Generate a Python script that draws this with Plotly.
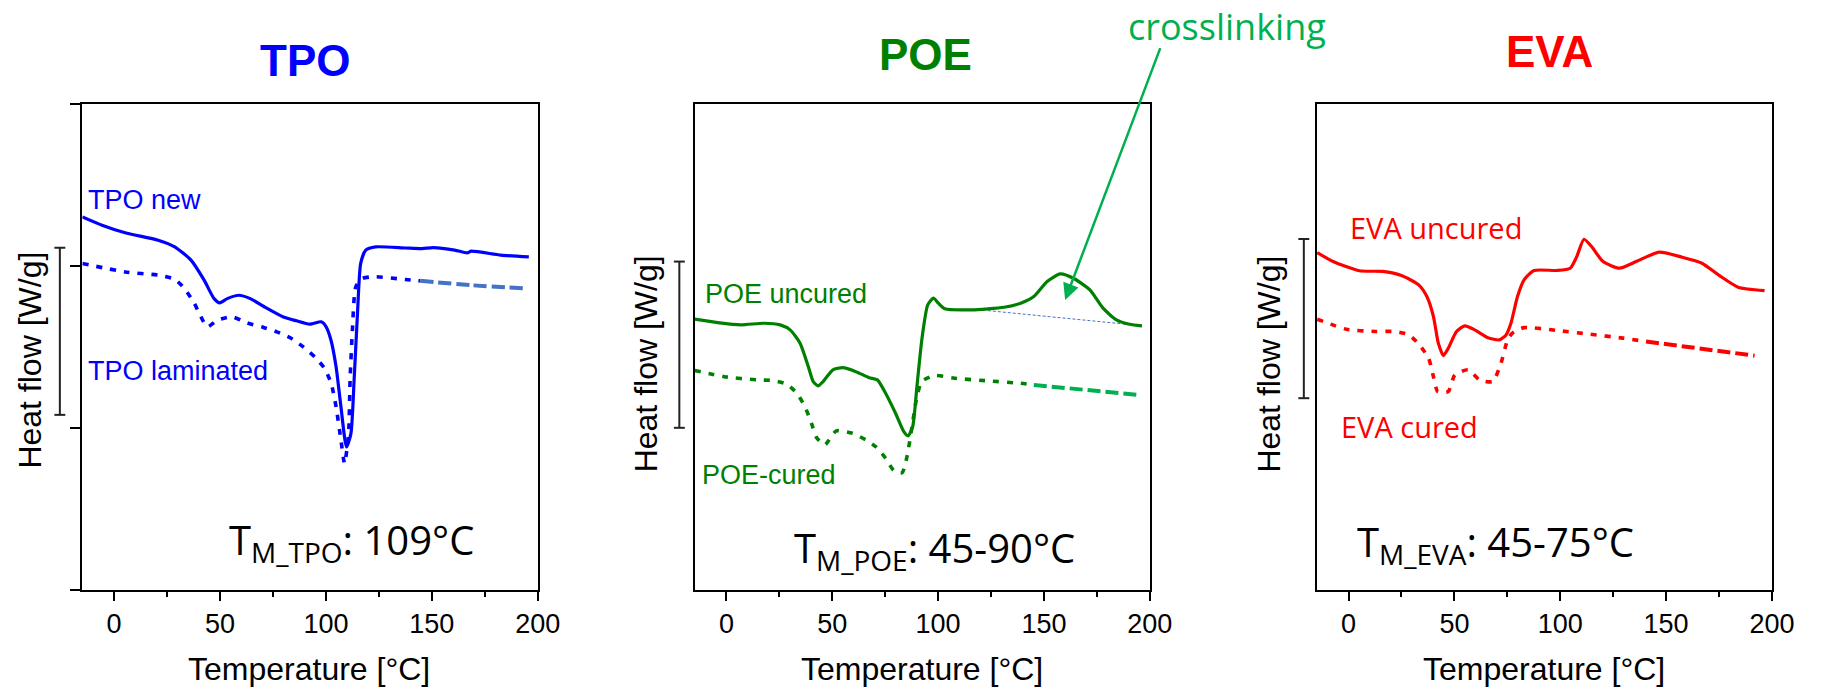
import numpy as np
import plotly.graph_objects as go

W, H = 1825, 688

# ---------------- data (temperature in °C, heat flow in arbitrary offset units) ----------------
# TPO
tpo_new_T = [-15.0, -5.7, 5.2, 20.8, 28.6, 36.3, 42.5, 47.2, 49.9, 53.4, 58.9, 64.3, 70.5, 79.9,
             86.1, 92.3, 97.8, 100.1, 102.4, 104.8, 107.1, 109.7, 111.8, 113.3, 114.9, 116.4,
             118.8, 123.5, 137.5, 145.3, 150.7, 160.8, 166.7, 168.6, 182.6, 195.8]
tpo_new_hf = [2.305, 2.254, 2.207, 2.161, 2.12, 2.038, 1.914, 1.80, 1.774, 1.80, 1.821, 1.80,
              1.753, 1.687, 1.663, 1.642, 1.657, 1.626, 1.543, 1.378, 1.131, 0.884, 0.966,
              1.296, 1.708, 2.017, 2.10, 2.12, 2.113, 2.109, 2.115, 2.10, 2.083, 2.093, 2.069, 2.058]
tpo_lam_T = [-15.0, 5.2, 20.8, 28.6, 33.2, 37.9, 41.0, 44.1, 48.8, 55.8, 62.8, 70.5, 76.8, 83.0,
             89.3, 95.5, 99.4, 102.5, 104.8, 107.1, 108.8, 110.7, 111.4, 112.5, 114.1, 117.2,
             123.5, 137.5, 144.5, 168.6, 193.6]
tpo_lam_hf = [2.017, 1.965, 1.945, 1.92, 1.863, 1.77, 1.687, 1.626, 1.667, 1.687, 1.65, 1.622,
              1.595, 1.56, 1.502, 1.43, 1.368, 1.276, 1.131, 0.925, 0.781, 0.966, 1.296, 1.605,
              1.873, 1.925, 1.935, 1.918, 1.91, 1.883, 1.863]
tpo_split_T = 144.5

# POE
poe_unc_T = [-15.0, -4.1, 6.8, 17.6, 25.4, 30.1, 34.8, 38.7, 41.0, 43.3, 45.7, 50.3, 55.0, 61.2,
             67.4, 71.3, 75.2, 79.9, 83.8, 85.8, 88.0, 90.0, 92.3, 95.1, 97.8, 100.1, 103.2,
             115.7, 131.2, 139.0, 145.2, 151.5, 157.7, 163.9, 171.7, 177.9, 184.2, 190.4, 196.3]
poe_unc_hf = [1.673, 1.652, 1.638, 1.648, 1.638, 1.607, 1.525, 1.38, 1.288, 1.261, 1.288, 1.36,
              1.374, 1.349, 1.312, 1.298, 1.216, 1.092, 0.978, 0.952, 1.01, 1.257, 1.545, 1.761,
              1.803, 1.772, 1.737, 1.731, 1.747, 1.772, 1.813, 1.906, 1.953, 1.926, 1.854, 1.741,
              1.669, 1.642, 1.632]
poe_cur_T = [-15.0, -1.0, 14.6, 22.3, 28.6, 33.2, 37.1, 40.2, 42.5, 46.4, 51.9, 59.6, 65.9, 70.5,
             75.2, 79.1, 83.0, 85.3, 87.7, 89.7, 92.3, 98.5, 107.9, 123.5, 139.0, 145.2, 194.2]
poe_cur_hf = [1.356, 1.318, 1.298, 1.294, 1.271, 1.216, 1.133, 1.03, 0.944, 0.896, 0.983, 0.968,
              0.927, 0.886, 0.814, 0.737, 0.725, 0.824, 1.01, 1.174, 1.288, 1.325, 1.308, 1.292,
              1.277, 1.267, 1.205]
poe_split_T = 145.2
poe_base_T = [123.5, 192.0]
poe_base_hf = [1.726, 1.638]

# EVA
eva_unc_T = [-14.8, -7.3, 5.1, 16.0, 25.3, 33.1, 37.0, 40.1, 42.4, 44.8, 47.1, 51.0, 54.9, 59.6,
             65.8, 71.2, 74.4, 76.7, 79.8, 82.9, 87.6, 98.5, 104.7, 107.8, 111.2, 114.8, 120.2,
             128.0, 135.8, 146.7, 157.6, 166.9, 174.7, 184.0, 196.5]
eva_unc_hf = [2.085, 2.029, 1.972, 1.968, 1.941, 1.885, 1.813, 1.689, 1.525, 1.448, 1.494, 1.597,
              1.632, 1.607, 1.559, 1.545, 1.576, 1.648, 1.813, 1.916, 1.974, 1.974, 1.988, 2.06,
              2.167, 2.122, 2.029, 1.988, 2.029, 2.087, 2.056, 2.019, 1.947, 1.871, 1.85]
eva_cur_T = [-14.8, -1.1, 12.9, 22.2, 28.5, 33.1, 37.8, 40.1, 42.1, 47.1, 50.2, 56.5, 61.9, 68.1,
             72.0, 75.1, 77.4, 82.9, 98.5, 114.1, 129.6, 140.5, 191.8]
eva_cur_hf = [1.673, 1.611, 1.597, 1.597, 1.576, 1.52, 1.432, 1.318, 1.226, 1.226, 1.329, 1.36,
              1.298, 1.288, 1.401, 1.545, 1.587, 1.621, 1.603, 1.58, 1.556, 1.535, 1.448]
eva_split_T = 140.5

# vertical scale bars (heat flow units)
scale_tpo = [1.082, 2.114]
scale_poe = [1.002, 2.029]
scale_eva = [1.185, 2.168]

x_ticks = [0, 50, 100, 150, 200]
x_range = [-15, 200]
y_range = [0, 3]

# ---------------- styling ----------------
BLUE, BLUE_TAIL = "#0000FF", "#4472C4"
GREEN, GREEN_TAIL = "#008000", "#00B050"
RED = "#FF0000"
ARIAL = "Arial, Liberation Sans, sans-serif"
CALIBRI_LIKE = "Open Sans, sans-serif"
DOT = "6px,8px"
DASH = "13px,5px"

# panel frames in pixels: (left, right)
panels = [(83.4, 544.6), (703.5, 1164.5), (1333.6, 1794.6)]
top_px, bottom_px = 104.4, 590.0


def split(T, hf, t0):
    T = np.asarray(T)
    hf = np.asarray(hf)
    i = int(np.searchsorted(T, t0))
    return (T[: i + 1], hf[: i + 1]), (T[i:], hf[i:])


def px(x):
    return x / W


def py(y):
    return 1 - y / H


fig = go.Figure()


def curve(T, hf, ax, color, dash="solid", width=3.2):
    fig.add_trace(go.Scatter(
        x=T, y=hf, mode="lines", xaxis=f"x{ax}", yaxis=f"y{ax}",
        line=dict(color=color, width=width, dash=dash, shape="spline", smoothing=0.6),
        hoverinfo="skip", showlegend=False))


# TPO
curve(tpo_new_T, tpo_new_hf, "", BLUE)
head, tail = split(tpo_lam_T, tpo_lam_hf, tpo_split_T)
curve(*head, "", BLUE, DOT, 3.6)
curve(*tail, "", BLUE_TAIL, DASH, 4)

# POE
curve(poe_base_T, poe_base_hf, "2", BLUE_TAIL, "3px,2px", 1)
curve(poe_unc_T, poe_unc_hf, "2", GREEN)
head, tail = split(poe_cur_T, poe_cur_hf, poe_split_T)
curve(*head, "2", GREEN, DOT, 3.6)
curve(*tail, "2", GREEN_TAIL, DASH, 4)

# EVA
curve(eva_unc_T, eva_unc_hf, "3", RED)
head, tail = split(eva_cur_T, eva_cur_hf, eva_split_T)
curve(*head, "3", RED, DOT, 3.6)
curve(*tail, "3", RED, DASH, 4)

layout = dict(
    width=W, height=H, margin=dict(l=0, r=0, t=0, b=0),
    paper_bgcolor="white", plot_bgcolor="white", showlegend=False,
)

for k, (l, r) in enumerate(panels):
    sfx = "" if k == 0 else str(k + 1)
    layout[f"xaxis{sfx}"] = dict(
        domain=[px(l), px(r)], range=x_range, anchor=f"y{sfx}",
        tickvals=x_ticks, ticks="outside", ticklen=9, tickwidth=2, tickcolor="black",
        minor=dict(dtick=25, tick0=0, ticks="outside", ticklen=5, tickwidth=1.5, tickcolor="black"),
        showline=True, linewidth=2, linecolor="black", mirror=True,
        showgrid=False, zeroline=False,
        tickfont=dict(family=ARIAL, size=27, color="black"),
    )
    ycfg = dict(
        domain=[py(bottom_px), py(top_px)], range=y_range, anchor=f"x{sfx}",
        showline=True, linewidth=2, linecolor="black", mirror=True,
        showgrid=False, zeroline=False, showticklabels=False,
    )
    if k == 0:
        ycfg.update(tickvals=[0, 1, 2, 3], ticks="outside", ticklen=10, tickwidth=2, tickcolor="black")
    else:
        ycfg.update(ticks="")
    layout[f"yaxis{sfx}"] = ycfg

fig.update_layout(**layout)

# scale bars beside each y axis
bars = [("", -0.0494, scale_tpo), ("2", -0.0336, scale_poe), ("3", -0.0285, scale_eva)]
for sfx, xd, (lo, hi) in bars:
    xr, yr = f"x{sfx} domain", f"y{sfx}"
    line = dict(color="#222222", width=2)
    fig.add_shape(type="line", xref=xr, yref=yr, x0=xd, x1=xd, y0=lo, y1=hi, line=line)
    for yv in (lo, hi):
        fig.add_shape(type="line", xref=xr, yref=yr, x0=xd - 0.012, x1=xd + 0.012,
                      y0=yv, y1=yv, line=line)


def text(x, y, s, size, color="black", family=ARIAL, xanchor="center", angle=0):
    fig.add_annotation(x=px(x), y=py(y), xref="paper", yref="paper", text=s,
                       showarrow=False, xanchor=xanchor, yanchor="middle", textangle=angle,
                       font=dict(family=family, size=size, color=color))


# panel titles
text(309, 60, "<b>TPO</b>", 44, BLUE)
text(937, 54, "<b>POE</b>", 44, GREEN)
text(1569, 51, "<b>EVA</b>", 44, RED)

# axis titles
for xc in (313.4, 933.4, 1563.7):
    text(xc, 669, "Temperature [°C]", 32)
for xc, yc in ((30, 360), (654.6, 364), (1284.8, 364)):
    text(xc, yc, "Heat flow [W/g]", 32, angle=-90)

# curve labels
text(86.7, 199.5, "TPO new", 27, BLUE, xanchor="left")
text(86.7, 371, "TPO laminated", 27, BLUE, xanchor="left")
text(711.7, 294, "POE uncured", 27, GREEN, xanchor="left")
text(709.3, 475, "POE-cured", 27, GREEN, xanchor="left")
text(1365, 228, "EVA uncured", 29, RED, family=CALIBRI_LIKE, xanchor="left")
text(1355.7, 426.5, "EVA cured", 29, RED, family=CALIBRI_LIKE, xanchor="left")

# melting temperatures
text(230, 541, "T<sub>M_TPO</sub>: 109°C", 40, family=CALIBRI_LIKE, xanchor="left")
text(802, 549, "T<sub>M_POE</sub>: 45-90°C", 40, family=CALIBRI_LIKE, xanchor="left")
text(1372.5, 543, "T<sub>M_EVA</sub>: 45-75°C", 40, family=CALIBRI_LIKE, xanchor="left")

# crosslinking exotherm marker
text(1242.5, 27, "crosslinking", 36, GREEN_TAIL, family=CALIBRI_LIKE)
fig.add_annotation(x=160, y=1.792, xref="x2", yref="y2", text="", showarrow=True,
                   ax=95.7, ay=-253.3, arrowcolor=GREEN_TAIL, arrowwidth=2.5,
                   arrowhead=2, arrowsize=1.3, standoff=0)

fig.write_html("out.html")
